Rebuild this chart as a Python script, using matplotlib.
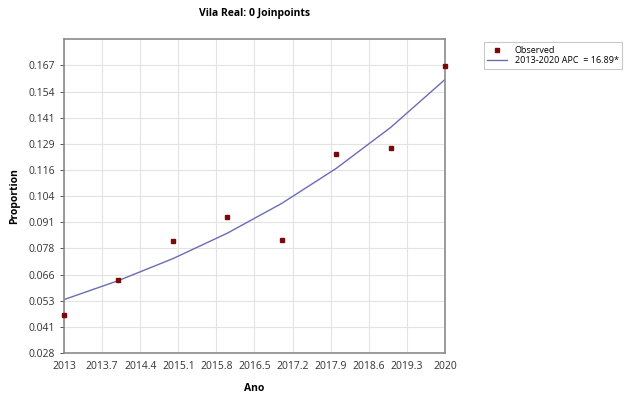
import numpy as np
import matplotlib.pyplot as plt

plt.rcParams["font.family"] = ["Open Sans", "DejaVu Sans"]

# observed proportions by year
years = [2013, 2014, 2015, 2016, 2017, 2018, 2019, 2020]
observed = [0.0462, 0.0632, 0.0817, 0.0936, 0.0824, 0.1242, 0.1268, 0.1665]
# joinpoint model fit (APC 16.89%)
fitted = [0.0536, 0.0628, 0.0734, 0.0857, 0.1001, 0.1170, 0.1368, 0.1600]

x_ticks = [2013, 2013.7, 2014.4, 2015.1, 2015.8, 2016.5, 2017.2, 2017.9, 2018.6, 2019.3, 2020]
x_labels = ["2013", "2013.7", "2014.4", "2015.1", "2015.8", "2016.5", "2017.2",
            "2017.9", "2018.6", "2019.3", "2020"]
y_labels = ["0.028", "0.041", "0.053", "0.066", "0.078", "0.091", "0.104",
            "0.116", "0.129", "0.141", "0.154", "0.167"]

y_lo, y_hi = 0.0278, 0.1668
y_step = (y_hi - y_lo) / 11
y_ticks = [y_lo + i * y_step for i in range(12)]

fig = plt.figure(figsize=(6.29, 3.96), dpi=100)
ax = fig.add_axes([0.1017, 0.1086, 0.6058, 0.7922])

ax.plot(years, fitted, color="#6b6bb8", lw=1.0, label="2013-2020 APC  = 16.89*", zorder=2)
ax.plot(years, observed, ls="none", marker="s", ms=3, color="#7a0a0a",
        label="Observed", clip_on=False, zorder=3)

ax.set_xlim(2013, 2020)
ax.set_ylim(y_lo, y_lo + 12 * y_step)
ax.set_xticks(x_ticks)
ax.set_xticklabels(x_labels)
ax.set_yticks(y_ticks)
ax.set_yticklabels(y_labels)
ax.tick_params(labelsize=7.5, colors="#333333", length=3, width=0.6)
ax.tick_params(axis="x", length=0, pad=6)
ax.grid(True, color="#e3e3e3", lw=0.8)
for s in ax.spines.values():
    s.set_color("#8a8a8a")
    s.set_linewidth(1.2)

ax.set_title("Vila Real: 0 Joinpoints", fontsize=7.5, fontweight="bold", pad=17)
ax.set_ylabel("Proportion", fontsize=7.5, fontweight="bold", labelpad=6)
ax.set_xlabel("Ano", fontsize=7.5, fontweight="bold", labelpad=8)

handles, labels = ax.get_legend_handles_labels()
leg = fig.legend(handles[::-1], labels[::-1], loc="upper left",
                 bbox_to_anchor=(0.762, 0.905), fontsize=6.5, frameon=True,
                 fancybox=False, edgecolor="#bbbbbb", handlelength=2.2,
                 borderpad=0.4, labelspacing=0.15)
leg.get_frame().set_linewidth(0.8)

fig.savefig("out.png", dpi=100)
